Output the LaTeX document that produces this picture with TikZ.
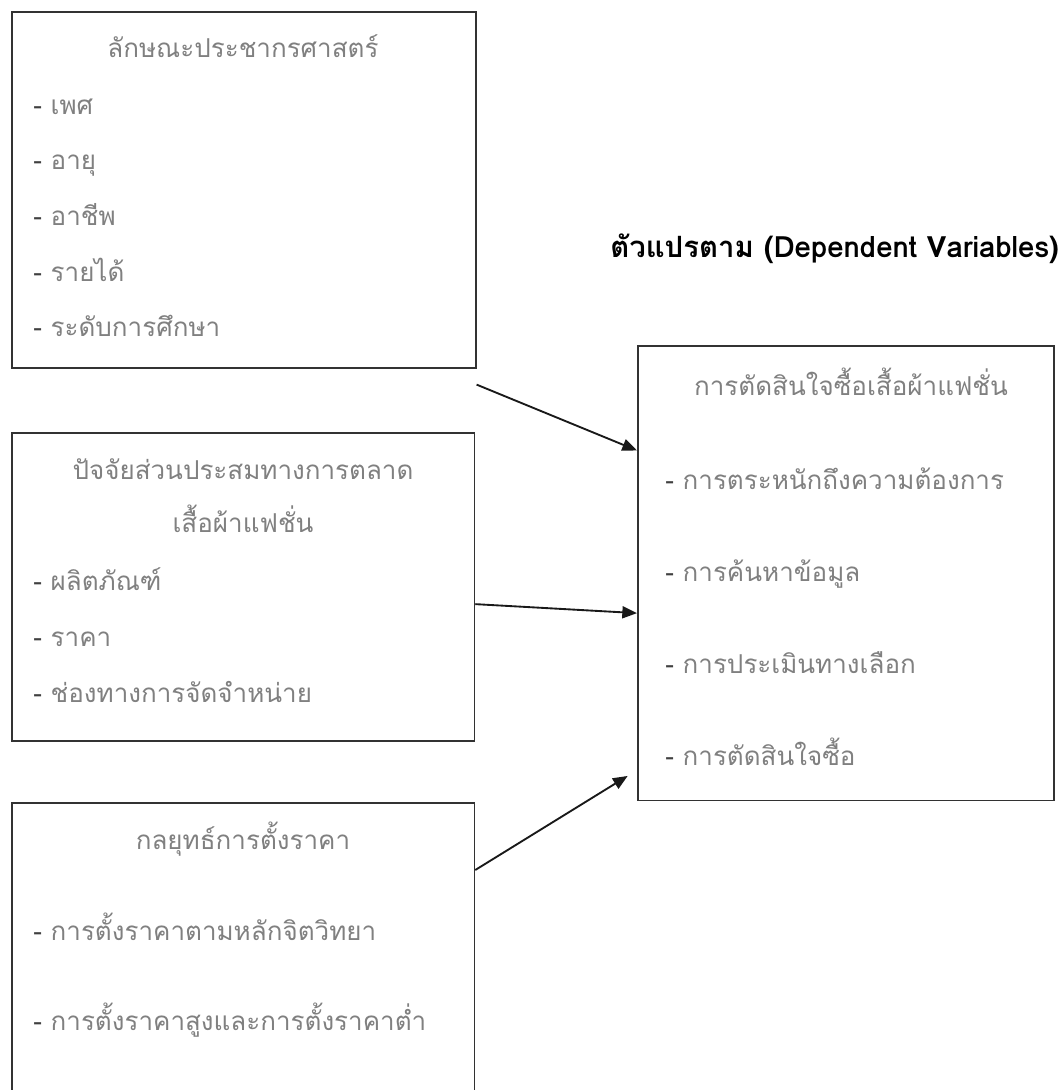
\documentclass[tikz,border=0pt]{standalone}
\usepackage{fontspec}
\newfontfamily\thaifont[Script=Thai]{Loma}
\usetikzlibrary{arrows.meta}

\definecolor{txtgray}{RGB}{128,128,128}
\definecolor{boxline}{RGB}{50,50,50}

\tikzset{
  box/.style={draw=boxline, line width=1.2pt, anchor=north west, inner sep=0pt},
  title/.style={anchor=base, inner sep=0pt, text=txtgray, font=\thaifont\fontsize{19.5}{24}\selectfont},
  entry/.style={anchor=base west, inner sep=0pt, text=txtgray, font=\thaifont\fontsize{19.5}{24}\selectfont},
  header/.style={anchor=base west, inner sep=0pt, font=\thaifont\bfseries\fontsize{22}{26}\selectfont},
  arr/.style={-{Triangle[length=11pt,width=9pt]}, line width=1.4pt, black!90}
}
\newcommand{\dsh}{{\color{black!75}-}\ }

\begin{document}
\begin{tikzpicture}[x=0.75pt, y=-0.75pt]
  \useasboundingbox (0,0) rectangle (1064,1090);
  \clip (0,0) rectangle (1064,1090);

  % boxes (1px = 0.75pt)
  \node[box, minimum width=348pt, minimum height=267pt] (demo) at (11,11) {};
  \node[box, minimum width=347pt, minimum height=231pt] (mix) at (11,432) {};
  \node[box, minimum width=347pt, minimum height=240pt] (price) at (11,802) {};
  \node[box, minimum width=312pt, minimum height=341pt] (buy) at (637,345) {};

  % left column
  \node[title] (demot) at (243,57) {ลักษณะประชากรศาสตร์};
  \foreach \t [count=\i] in {เพศ, อายุ, อาชีพ, รายได้, ระดับการศึกษา}
    \node[entry] (demo\i) at (33,{114+55.7*(\i-1)}) {\dsh\t};

  \node[title] (mixt) at (243,479) {ปัจจัยส่วนประสมทางการตลาด};
  \node[title] (mixs) at (243,532) {เสื้อผ้าแฟชั่น};
  \foreach \t [count=\i] in {ผลิตภัณฑ์, ราคา, ช่องทางการจัดจำหน่าย}
    \node[entry] (mix\i) at (33,{590+56*(\i-1)}) {\dsh\t};

  \node[title] (pricet) at (243,849) {กลยุทธ์การตั้งราคา};
  \foreach \t [count=\i] in {การตั้งราคาตามหลักจิตวิทยา, การตั้งราคาสูงและการตั้งราคาต่ำ}
    \node[entry] (price\i) at (33,{940+90*(\i-1)}) {\dsh\t};

  % right column
  \node[header] (dep) at (610,257) {ตัวแปรตาม (Dependent Variables)};
  \node[title] (buyt) at (851,395) {การตัดสินใจซื้อเสื้อผ้าแฟชั่น};
  \foreach \t [count=\i] in {การตระหนักถึงความต้องการ, การค้นหาข้อมูล, การประเมินทางเลือก, การตัดสินใจซื้อ}
    \node[entry] (buy\i) at (665,{489+92.3*(\i-1)}) {\dsh\t};

  % arrows
  \draw[arr] ([yshift=-12pt]demo.south east) -- ([yshift=92pt]buy.west);
  \draw[arr] ([yshift=-13pt]mix.east) -- ([yshift=-30pt]buy.west);
  \draw[arr] ([yshift=-51pt]price.north east) -- ([xshift=-7pt,yshift=19pt]buy.south west);
\end{tikzpicture}
\end{document}
